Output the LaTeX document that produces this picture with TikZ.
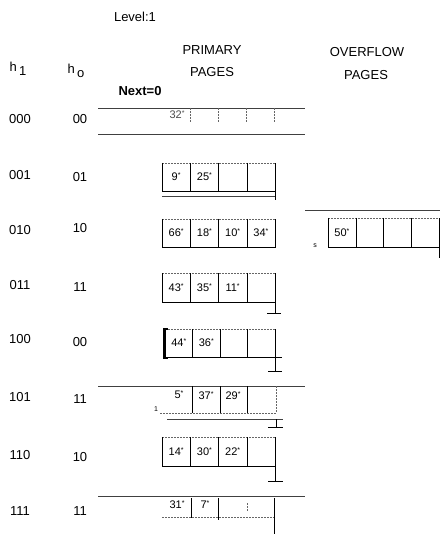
\documentclass[tikz,border=0pt]{standalone}
\usepackage{fontspec}
\setmainfont{Liberation Sans}
\newcommand\st{{\fontsize{7}{7}\selectfont\raisebox{3pt}{*}}}
\newcommand\pcells[6]{%
  \draw[dashedge] (#2,#4) -- ++(4*#3,0);
  \draw[cellline] (#2,#4) -- (#2,#5) -- ++(4*#3,0) -- ++(0,#4-#5);
  \foreach \k in {1,2,3} {\draw[cellline] (#2+\k*#3,#4) -- (#2+\k*#3,#5);}
  \foreach \t [count=\i] in {#6} {\node[cell] (#1-\i) at ({#2+\i*#3-#3/2},{(#4+#5)/2}) {\t};}
}
\begin{document}
\begin{tikzpicture}[x=1pt,y=-1pt,
  lbl/.style={font=\fontsize{13}{13}\selectfont, inner sep=0pt},
  cell/.style={font=\fontsize{11}{11}\selectfont, inner sep=0pt},
  small/.style={font=\fontsize{7}{7}\selectfont, inner sep=0pt},
  rule/.style={line width=0.8pt, draw=black!75},
  cellline/.style={line width=0.5pt},
  dashedge/.style={line width=0.5pt, dash pattern=on 2pt off 1pt, draw=black!60},
  stem/.style={line width=0.5pt}]
\useasboundingbox (0,0) rectangle (441,534);
\fill[white] (0,0) rectangle (441,534);

% headers
\node[lbl] (level) at (135,17) {Level:1};
\node[lbl] (prim1) at (212,50) {PRIMARY};
\node[lbl] (prim2) at (212,72) {PAGES};
\node[lbl] (ovf1) at (367,52) {OVERFLOW};
\node[lbl] (ovf2) at (366,75) {PAGES};
\node[lbl] (h1) at (18,69) {h\,\raisebox{-4pt}{1}};
\node[lbl] (h0) at (76,71) {h\,\raisebox{-4pt}{o}};
\node[lbl, font=\bfseries\fontsize{13}{13}\selectfont] (next) at (140,91) {Next=0};

% row labels
\foreach \n/\a/\b/\ya/\yb in {r0/000/00/119/119, r1/001/01/175/177, r2/010/10/230/228,
  r3/011/11/285/287, r4/100/00/339/342, r5/101/11/397/399, r6/110/10/455/457, r7/111/11/511/511}
{\node[lbl] (\n a) at (20,\ya) {\a}; \node[lbl] (\n b) at (80,\yb) {\b};}

% row 000
\draw[rule] (98,108) -- (305,108);
\draw[rule] (98,134) -- (305,134);
\foreach \xx in {190,218,246,274} {\draw[dashedge] (\xx,108) -- (\xx,123);}
\node[cell, text=black!70] (c0-1) at (177,115) {32\st};

% row 001
\pcells{c1}{162}{28.25}{163}{191}{9\st,25\st,,}
\draw[rule] (162,196) -- (275,196);
\draw[cellline] (275,191) -- (275,200);

% row 010
\pcells{c2}{162}{28.25}{219}{247}{66\st,18\st,10\st,34\st}
\draw[rule] (305,210) -- (440,210);
\pcells{o2}{328}{27.75}{218}{247}{50\st,,,}
\draw[stem] (439,247) -- (439,258);
\node[small] (s) at (315,246) {s};

% row 011
\pcells{c3}{162}{28.25}{273}{302}{43\st,35\st,11\st,}
\draw[stem] (275,302) -- (275,313);
\draw[stem] (267,313) -- (281,313);

% row 100
\pcells{c4}{165}{27.5}{329}{357}{44\st,36\st,,}
\draw[line width=2pt] (168,329) -- (164,329) -- (164,358) -- (168,358);
\draw[cellline] (275,357) -- (282,357);
\draw[stem] (275,357) -- (275,371);
\draw[stem] (268,371) -- (282,371);

% row 101
\draw[rule] (98,386) -- (305,386);
\foreach \xx in {192,220,247} {\draw[cellline] (\xx,386) -- (\xx,413);}
\draw[dashedge] (276,386) -- (276,413);
\draw[dashedge] (160,413) -- (276,413);
\node[cell] (c5-1) at (179,395) {5\st};
\node[cell] (c5-2) at (206,396) {37\st};
\node[cell] (c5-3) at (233,396) {29\st};
\node[small] (one) at (156,409) {1};
\draw[rule] (167,419) -- (283,419);
\draw[stem] (276,419) -- (276,427);
\draw[stem] (268,427) -- (283,427);

% row 110
\pcells{c6}{162}{28.25}{437}{466}{14\st,30\st,22\st,}
\draw[stem] (275,466) -- (275,481);
\draw[stem] (268,481) -- (283,481);

% row 111
\draw[rule] (98,496) -- (305,496);
\draw[cellline] (191,498) -- (191,518);
\draw[line width=0.8pt] (218,498) -- (218,520);
\draw[dashedge] (247,503) -- (247,511);
\draw[cellline] (274,498) -- (274,534);
\draw[dashedge] (162,517) -- (274,517);
\node[cell] (c7-1) at (177,505) {31\st};
\node[cell] (c7-2) at (205,505) {7\st};
\end{tikzpicture}
\end{document}
